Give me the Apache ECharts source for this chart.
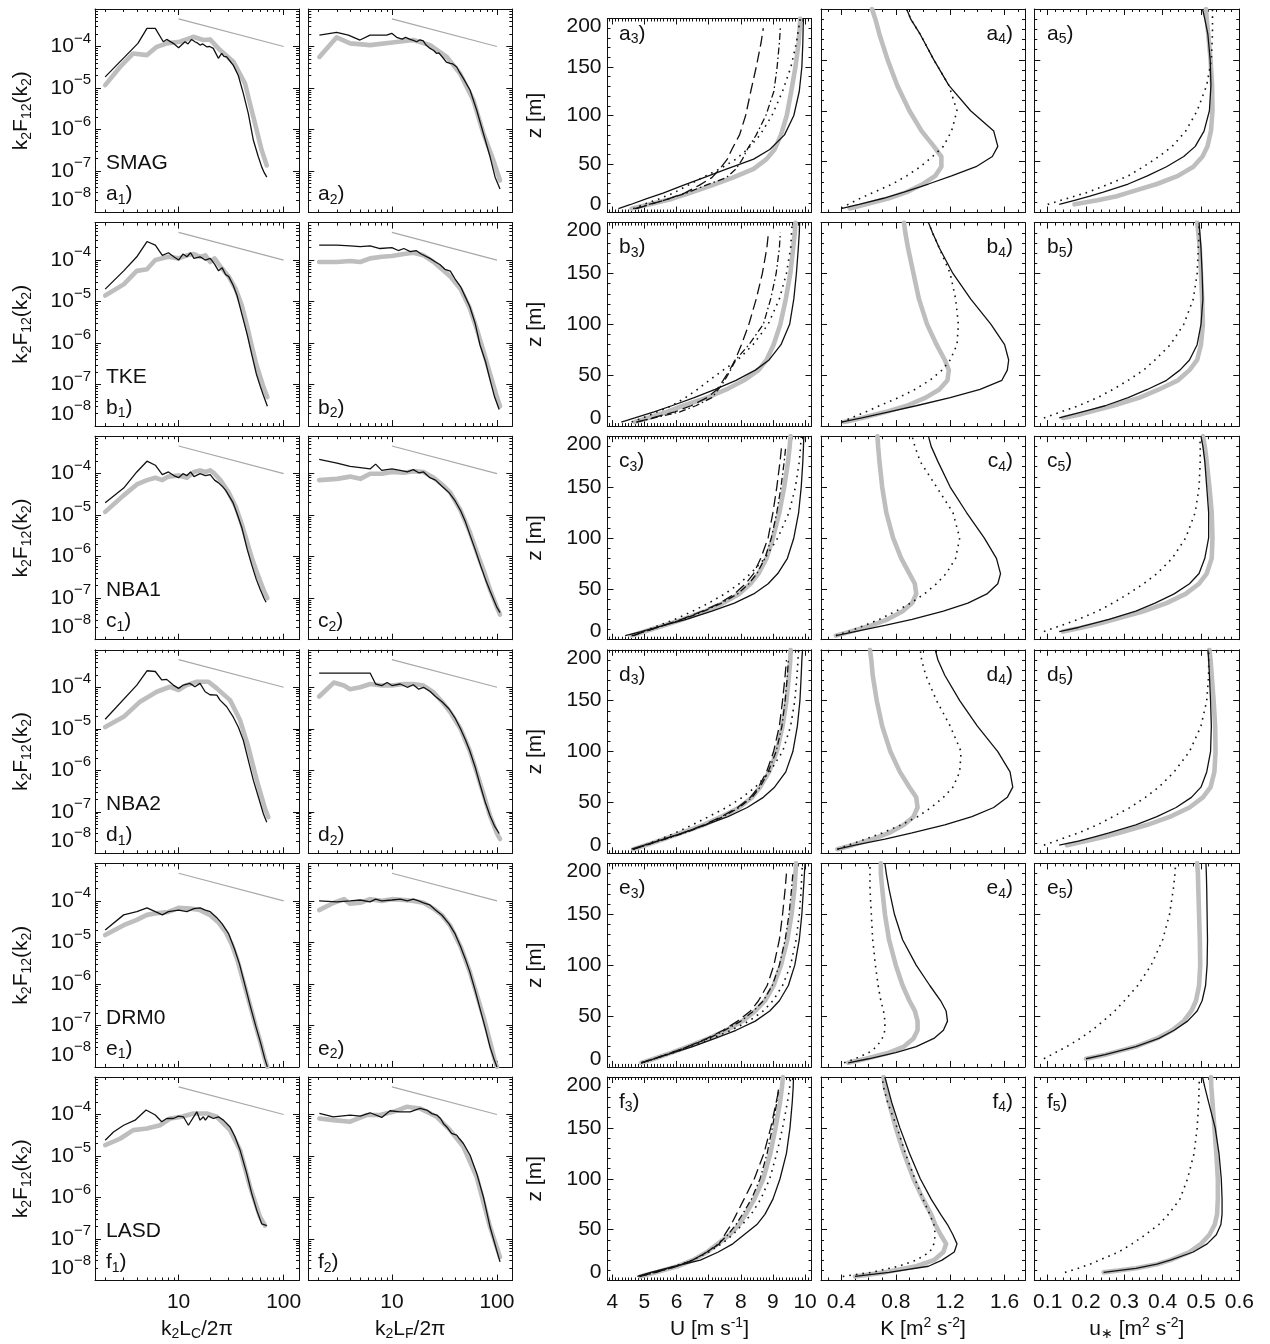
<!DOCTYPE html>
<html><head><meta charset="utf-8">
<script src="https://cdn.jsdelivr.net/npm/echarts/dist/echarts.min.js"></script>
<style>html,body{margin:0;padding:0;background:#fff}#chart{width:1270px;height:1344px}</style>
</head><body><div id="chart"></div>
<script>
// ---------------- DATA ----------------
const rowNames = ['SMAG', 'TKE', 'NBA1', 'NBA2', 'DRM0', 'LASD'];
const rowLetters = ['a', 'b', 'c', 'd', 'e', 'f'];

// -2/3 reference line (k, value)
const refLine = [[10, 4.64e-4], [100, 1e-4]];

// column 1 spectra (k2 Lc / 2pi, k2 F12)
const a1Black = [[2,1.85e-5],[4.1,1.19e-4],[5,2.73e-4],[6,2.73e-4],[7.15,1.3e-4],[7.7,1.48e-4],[8.9,1.19e-4],[10,9.3e-5],[11.5,1.3e-4],[12.3,1.15e-4],[13.3,1.48e-4],[14.3,1.3e-4],[15.2,1.2e-4],[16,1.08e-4],[17,1.15e-4],[18.5,9.8e-5],[19.8,1.0e-4],[21.4,9e-5],[22.5,7e-5],[23.9,5.2e-5],[25.7,6.8e-5],[27,5.8e-5],[28.7,5.6e-5],[30.5,4.6e-5],[33.2,3.5e-5],[37,2e-5],[41.3,7.4e-6],[46.1,2.4e-6],[51.5,5.5e-7],[57.4,2.2e-7],[61.9,1.24e-7],[65.5,9e-8],[69.1,7.1e-8]];
const a1Gray = [[2,1.17e-5],[2.77,3.2e-5],[3.7,6.8e-5],[5,6.2e-5],[6.2,9.8e-5],[7.7,1.19e-4],[10.3,1.3e-4],[13.8,1.71e-4],[17.2,1.43e-4],[19.9,1.48e-4],[24.8,8.2e-5],[33.2,4.3e-5],[42.9,1.28e-5],[47,5e-6],[51.5,2e-6],[61.9,3.1e-7],[69.1,1.36e-7]];
const b1Black = [[2,2e-5],[3,5.5e-5],[4,1.2e-4],[5,2.8e-4],[6,2.3e-4],[7,1.3e-4],[8,1.5e-4],[9,1.2e-4],[10,1e-4],[11,1.4e-4],[12,1.2e-4],[13,1.5e-4],[14,1.1e-4],[16,1.2e-4],[18,1e-4],[20,1.1e-4],[22,8e-5],[24,5.5e-5],[26,6.5e-5],[28,4.5e-5],[30,4e-5],[33,2.5e-5],[36,1.4e-5],[40,5e-6],[45,1.6e-6],[50,5e-7],[55,1.8e-7],[60,9e-8],[65,5e-8],[70,3e-8]];
const b1Gray = [[2,1.4e-5],[3,2.6e-5],[4,5.5e-5],[5,6e-5],[6,1e-4],[8,1.2e-4],[10,1.1e-4],[12,1.3e-4],[14,1.4e-4],[16,1.2e-4],[18,1.3e-4],[20,9e-5],[22,1.1e-4],[25,7e-5],[30,4e-5],[35,2e-5],[40,8e-6],[45,2.5e-6],[50,8e-7],[55,3e-7],[60,1.5e-7],[65,8e-8],[70,5e-8]];
const c1Black = [[2,2e-5],[3,4.5e-5],[4,1.1e-4],[5,2e-4],[6,1.6e-4],[7,9.5e-5],[8,1.1e-4],[9,9e-5],[10,8e-5],[11,1e-4],[12,9e-5],[13,1.1e-4],[14,8.5e-5],[16,1e-4],[18,9e-5],[20,9.5e-5],[22,7e-5],[24,6e-5],[26,5e-5],[28,4e-5],[30,3e-5],[33,2e-5],[36,1.1e-5],[40,5e-6],[45,1.5e-6],[50,6e-7],[55,2.8e-7],[60,1.6e-7],[65,1e-7],[68,8e-8]];
const c1Gray = [[2,1.2e-5],[3,3e-5],[4,5.5e-5],[5,7e-5],[6,8e-5],[7,7e-5],[8,8.5e-5],[10,9e-5],[12,8e-5],[14,1.1e-4],[16,1.2e-4],[18,1.1e-4],[20,1.2e-4],[22,1e-4],[25,7e-5],[30,3.5e-5],[35,1.6e-5],[40,6e-6],[45,2.2e-6],[50,9e-7],[55,4.5e-7],[60,2.5e-7],[65,1.5e-7],[70,1e-7]];
const d1Black = [[2,1.7e-5],[4,1.13e-4],[5,2.5e-4],[6,2.4e-4],[6.9,1.5e-4],[7.7,1.55e-4],[8.9,1.13e-4],[10,9.4e-5],[11.1,1.13e-4],[12.8,1.24e-4],[14.3,1.03e-4],[16,1.24e-4],[17.9,7.8e-5],[19.9,6.6e-5],[23.1,6.5e-5],[24.8,4.9e-5],[28.7,3.4e-5],[33.2,1.9e-5],[37,1.1e-5],[41.3,5.3e-6],[46.1,1.74e-6],[51.5,5.7e-7],[57.4,2.3e-7],[64.1,9e-8],[69.1,5.6e-8]];
const d1Gray = [[2,1.1e-5],[3,1.94e-5],[4.3,4.5e-5],[6.2,7.8e-5],[8.3,1.03e-4],[10,8.6e-5],[11.9,1.13e-4],[14.9,1.36e-4],[19.2,1.36e-4],[23.1,9.4e-5],[30.9,4.9e-5],[38.5,1.6e-5],[46.1,3.65e-6],[55.5,5.7e-7],[66.5,1.19e-7],[71.5,7.4e-8]];
const e1Black = [[2,2e-5],[3,4.6e-5],[4,5.5e-5],[5,6.8e-5],[6,5.5e-5],[7,4.6e-5],[8,5.5e-5],[10,6e-5],[12,5.5e-5],[14,6.5e-5],[16,6.8e-5],[18,6e-5],[20,5.5e-5],[23,4e-5],[26,2.8e-5],[30,1.6e-5],[34,7e-6],[38,3e-6],[43,9e-7],[48,3e-7],[54,1e-7],[60,4e-8],[66,1.6e-8],[70,1e-8]];
const e1Gray = [[2,1.5e-5],[3,2.6e-5],[4,3.5e-5],[5,4.6e-5],[6,5e-5],[8,5.4e-5],[10,6.8e-5],[13,6.5e-5],[16,6e-5],[20,4.5e-5],[24,3e-5],[28,1.8e-5],[32,9e-6],[36,4e-6],[42,1e-6],[48,3e-7],[54,1e-7],[60,4e-8],[66,1.6e-8],[70,1e-8]];
const f1Black = [[2,2.4e-5],[2.4,3.8e-5],[3,5.5e-5],[3.85,7.3e-5],[4.9,1.28e-4],[6,9.7e-5],[6.9,6.7e-5],[7.7,8e-5],[8.9,8e-5],[10,9.1e-5],[11.1,8.8e-5],[12.4,5.5e-5],[14.9,1.16e-4],[16,7.3e-5],[17.2,8.8e-5],[18,7.3e-5],[19.2,9.1e-5],[21.4,8e-5],[23.9,8.8e-5],[26.7,7.3e-5],[30.9,5e-5],[34.4,2.9e-5],[38.5,1.38e-5],[44.5,3.8e-6],[49.7,1.24e-6],[55.5,4.9e-7],[61.9,2.3e-7],[69.1,2.1e-7]];
const f1Gray = [[2,1.82e-5],[2.77,2.6e-5],[3.7,4.2e-5],[5,4.6e-5],[6.65,5.5e-5],[8.3,8e-5],[10.7,8.8e-5],[13.8,1.06e-4],[18.5,1.06e-4],[23.1,8.8e-5],[30.9,4.2e-5],[38.5,1.38e-5],[47.9,1.8e-6],[59.6,3.4e-7],[66.5,2.1e-7]];

// column 2 spectra (k2 Lf / 2pi, k2 F12)
const a2Black = [[2.04,1.88e-4],[2.98,2.19e-4],[3.85,1.88e-4],[4.97,1.43e-4],[6.19,1.88e-4],[8.93,1.88e-4],[9.96,2.07e-4],[11.1,1.66e-4],[12.5,1.5e-4],[13.5,1.65e-4],[14.9,1.48e-4],[16,1.4e-4],[17.2,1.3e-4],[18.5,1.45e-4],[19.9,1.37e-4],[21,1.1e-4],[23.1,9e-5],[25,8e-5],[26.7,6.8e-5],[28,7e-5],[30.9,5.2e-5],[33,4.2e-5],[35.8,3.9e-5],[38,3.8e-5],[41.4,3.2e-5],[44,2.4e-5],[47.9,1.7e-5],[55.5,8.8e-6],[64.2,2.9e-6],[74.3,8e-7],[86,2.2e-7],[96,7.1e-8],[107,3.7e-8]];
const a2Gray = [[2.04,5.6e-5],[2.98,1.66e-4],[4,1.19e-4],[6.2,1.08e-4],[9.6,1.23e-4],[16,1.43e-4],[23.1,1.08e-4],[33.3,5.6e-5],[44.5,2.24e-5],[59.6,5.1e-6],[74.3,8e-7],[92.5,1.8e-7],[107,5.9e-8]];
const b2Black = [[2.03,2.3e-4],[3,2.3e-4],[4,2.2e-4],[5,2.1e-4],[6.2,2.2e-4],[7.7,1.9e-4],[10,2e-4],[11.5,1.7e-4],[13,1.9e-4],[15,1.6e-4],[17,1.7e-4],[19,1.4e-4],[23,1.1e-4],[26,9e-5],[28.6,7.8e-5],[32,6e-5],[36,5.4e-5],[40,3.5e-5],[45,2.3e-5],[50,1.3e-5],[55,7.7e-6],[62,3e-6],[69,9e-7],[78,3.5e-7],[86,1.3e-7],[95,5e-8],[105,2.5e-8]];
const b2Gray = [[2.03,9e-5],[3,9e-5],[4,9.5e-5],[5,9e-5],[6.2,1.1e-4],[8,1.2e-4],[10,1.25e-4],[13,1.4e-4],[16,1.5e-4],[20,1.3e-4],[25,9e-5],[30,6e-5],[36,4e-5],[45,2e-5],[55,7e-6],[65,2e-6],[75,6e-7],[86,1.8e-7],[100,5e-8],[107,3e-8]];
const c2Black = [[2.03,2.2e-4],[3,1.8e-4],[4,1.5e-4],[5,1.4e-4],[6.2,1.3e-4],[7,1.7e-4],[8,1.2e-4],[10,1.3e-4],[12,1.2e-4],[14,1.1e-4],[16,1.25e-4],[18,1.05e-4],[20,1.1e-4],[23,8e-5],[26,7e-5],[30,5e-5],[35,3.5e-5],[40,2.2e-5],[45,1.3e-5],[50,7e-6],[55,3.5e-6],[62,1.5e-6],[70,6e-7],[78,2.8e-7],[86,1.5e-7],[100,6e-8],[107,4.5e-8]];
const c2Gray = [[2.03,7e-5],[3,7.5e-5],[4,8.5e-5],[5,7.5e-5],[6.2,1e-4],[8,1e-4],[10,1.1e-4],[13,1.05e-4],[16,1.15e-4],[20,1.1e-4],[25,8e-5],[30,5.5e-5],[36,3.5e-5],[45,1.3e-5],[55,4e-6],[65,1.2e-6],[75,4.5e-7],[86,1.6e-7],[100,6e-8],[107,4e-8]];
const d2Black = [[2.03,2.2e-4],[3,2.2e-4],[4,2.2e-4],[5,2.2e-4],[6.2,2.2e-4],[7,1.2e-4],[8,1.1e-4],[9,1.3e-4],[10,1.1e-4],[12,1.2e-4],[14,1e-4],[16,1.15e-4],[18,9e-5],[20,1e-4],[23,8e-5],[26,6e-5],[30,4.5e-5],[35,3e-5],[40,1.8e-5],[45,1e-5],[50,5.5e-6],[55,3e-6],[62,1.2e-6],[70,4e-7],[78,1.6e-7],[86,8e-8],[95,4.5e-8],[105,3e-8]];
const d2Gray = [[2.03,6e-5],[2.8,1.3e-4],[3.5,1.1e-4],[4,9e-5],[5,1e-4],[6.2,1.2e-4],[8,1.1e-4],[10,1.1e-4],[13,1.2e-4],[16,1.2e-4],[20,1.1e-4],[25,7.5e-5],[30,4.5e-5],[36,2.5e-5],[45,1e-5],[55,3e-6],[65,8e-7],[75,2.5e-7],[86,8e-8],[100,3e-8],[107,2.2e-8]];
const e2Black = [[2.03,1e-4],[3,9.5e-5],[4,1e-4],[5,1.05e-4],[6.2,9.5e-5],[7,1.1e-4],[8,1e-4],[10,1.05e-4],[12,1.1e-4],[14,1e-4],[16,1.1e-4],[18,1e-4],[20,9e-5],[23,8e-5],[26,6e-5],[30,4.5e-5],[35,2.8e-5],[40,1.6e-5],[45,8e-6],[50,4e-6],[55,2e-6],[62,7e-7],[70,2.2e-7],[78,8e-8],[86,3e-8],[95,1.4e-8],[100,1e-8]];
const e2Gray = [[2.03,6e-5],[2.8,9e-5],[3.5,1.1e-4],[4,8.5e-5],[5,9e-5],[6.2,1.1e-4],[8,1e-4],[10,1.1e-4],[13,1.05e-4],[16,1e-4],[20,9e-5],[25,6.5e-5],[30,4.5e-5],[36,2.5e-5],[45,8e-6],[55,2e-6],[65,5e-7],[75,1.5e-7],[86,4e-8],[95,1.5e-8],[100,1e-8]];
const f2Black = [[2.04,1.06e-4],[2.77,8.8e-5],[4,9.7e-5],[5,9.1e-5],[6.2,1.1e-4],[8,8.5e-5],[9.6,1.23e-4],[11.9,1.16e-4],[14.9,1.16e-4],[18.5,1.4e-4],[21.5,1.28e-4],[24,1.05e-4],[26.7,9.7e-5],[29,8e-5],[31,6e-5],[33.3,5e-5],[37,3.5e-5],[41.4,3.2e-5],[44,2.6e-5],[47.9,2e-5],[55.5,1.04e-5],[64.2,3.8e-6],[74.3,1.03e-6],[86,1.94e-7],[99.5,5.3e-8],[107,2.8e-8]];
const f2Gray = [[2.04,8e-5],[2.77,7.3e-5],[4,6.7e-5],[5.75,9.7e-5],[7.7,9.7e-5],[10.3,1.16e-4],[13.8,1.53e-4],[18.5,1.4e-4],[26.7,8.8e-5],[35.8,4.2e-5],[47.9,1.66e-5],[64.2,3.1e-6],[86,1.94e-7],[107,3.65e-8]];

// heights of the profile points [m]
const zP = [4, 8, 14, 20, 28, 36, 45, 55, 65, 80, 100, 125, 150, 175, 190, 200];
const zS = [8, 12, 16, 20, 28, 36, 45, 55, 65, 80, 100, 125, 150, 175, 190, 200];

// column 3: U [m/s] at zP
const Ua_solid = [4.19,4.55,5.05,5.58,6.2,6.85,7.57,8.4,8.9,9.36,9.65,9.82,9.9,9.93,9.94,9.95];
const Ua_gray  = [4.6,5.1,5.85,6.4,7.1,7.75,8.4,8.8,9.05,9.25,9.43,9.57,9.7,9.8,9.83,9.85];
const Ua_dot   = [4.65,4.95,5.45,5.9,6.35,6.8,7.35,7.85,8.2,8.6,8.97,9.3,9.56,9.73,9.8,9.85];
const Ua_dd    = [4.7,5.1,5.75,6.3,6.9,7.55,7.85,8.05,8.2,8.48,8.78,9.03,9.13,9.2,9.23,null];
const Ua_ld    = [4.75,5.15,5.75,6.25,6.7,7.1,7.35,7.58,7.72,7.96,8.15,8.31,8.48,8.63,8.7,null];
const Ub_solid = [4.28,4.7,5.3,5.85,6.55,7.2,7.85,8.45,8.88,9.25,9.52,9.65,9.73,9.79,9.82,9.83];
const Ub_gray  = [4.7,5.1,5.7,6.2,6.95,7.55,8.1,8.55,8.8,9.02,9.23,9.4,9.54,9.63,9.68,9.7];
const Ub_dot   = [4.6,4.95,5.4,5.85,6.28,6.65,7.02,7.45,7.9,8.38,8.85,9.2,9.42,9.55,9.58,9.6];
const Ub_dd    = [4.75,5.3,6.1,6.6,7.1,7.3,7.5,7.68,7.84,8.25,8.7,8.93,9.1,9.2,9.23,null];
const Ub_ld    = [4.75,5.25,5.95,6.45,6.95,7.26,7.45,7.65,7.82,8.02,8.25,8.48,8.67,8.81,8.86,null];
const Uc_solid = [4.4,4.9,5.6,6.3,7.1,7.8,8.4,8.85,9.15,9.45,9.65,9.8,9.88,9.93,9.95,9.96];
const Uc_gray  = [4.6,5.0,5.6,6.2,6.9,7.45,7.95,8.3,8.55,8.8,9.0,9.2,9.35,9.47,9.52,9.55];
const Uc_dot   = [4.6,4.95,5.45,5.95,6.5,7.0,7.5,7.95,8.3,8.75,9.15,9.5,9.7,9.82,9.86,9.88];
const Uc_dd    = [4.65,5.0,5.6,6.2,6.85,7.4,7.9,8.25,8.5,8.75,8.95,9.12,9.25,9.35,9.4,null];
const Uc_ld    = [4.65,5.0,5.6,6.15,6.8,7.35,7.8,8.15,8.4,8.62,8.85,9.0,9.12,9.22,9.27,null];
const Ud_solid = [4.6,5.0,5.6,6.2,6.9,7.6,8.2,8.7,9.05,9.4,9.62,9.76,9.84,9.88,9.9,9.92];
const Ud_gray  = [4.65,5.05,5.6,6.15,6.85,7.4,7.95,8.35,8.6,8.88,9.12,9.3,9.42,9.5,9.54,9.55];
const Ud_dot   = [4.65,5.0,5.5,5.95,6.5,7.0,7.55,8.05,8.45,8.9,9.3,9.55,9.68,9.75,9.78,9.8];
const Ud_dd    = [4.65,5.05,5.65,6.25,6.9,7.45,7.95,8.35,8.6,8.85,9.1,9.28,9.38,9.45,9.48,null];
const Ud_ld    = [4.65,5.05,5.6,6.2,6.85,7.4,7.9,8.3,8.55,8.8,9.02,9.2,9.3,9.38,9.42,null];
const Ue_solid = [4.9,5.3,5.9,6.5,7.2,7.85,8.45,8.9,9.2,9.48,9.68,9.82,9.9,9.95,9.98,10.0];
const Ue_gray  = [4.9,5.3,5.85,6.35,7.0,7.55,8.05,8.45,8.75,9.02,9.25,9.45,9.58,9.67,9.7,9.72];
const Ue_dot   = [4.9,5.3,5.9,6.45,7.1,7.7,8.25,8.7,9.0,9.3,9.55,9.72,9.82,9.88,9.9,9.92];
const Ue_dd    = [4.9,5.3,5.85,6.35,7.0,7.5,8.0,8.4,8.7,8.98,9.2,9.38,9.5,9.58,9.62,null];
const Ue_ld    = [4.9,5.3,5.85,6.35,6.95,7.45,7.9,8.3,8.55,8.82,9.03,9.2,9.3,9.38,9.42,null];
const Uf_solid = [4.78,5.2,5.95,6.74,7.3,7.75,8.1,8.5,8.75,9.0,9.22,9.42,9.53,9.6,9.63,9.64];
const Uf_gray  = [4.86,5.35,6.03,6.5,6.95,7.28,7.65,7.95,8.15,8.42,8.7,8.92,9.08,9.22,9.28,9.31];
const Uf_dot   = [4.85,5.3,5.95,6.5,7.0,7.4,7.75,8.05,8.32,8.62,8.9,9.12,9.3,9.45,9.52,9.55];
const Uf_dd    = [4.85,5.35,6.0,6.5,6.95,7.3,7.6,7.85,8.05,8.33,8.6,8.82,8.98,9.12,9.18,null];
const Uf_ld    = [4.85,5.35,6.0,6.5,6.95,7.33,7.5,7.7,7.86,8.1,8.42,8.72,8.93,9.1,9.2,null];

// column 4: K [m2/s2] at zP
const Ka_solid = [0.405,0.53,0.71,0.86,1.04,1.21,1.39,1.51,1.55,1.52,1.35,1.19,1.08,0.98,0.91,0.88];
const Ka_gray  = [0.46,0.58,0.75,0.88,1.0,1.09,1.135,1.135,1.08,0.99,0.9,0.81,0.74,0.68,0.65,0.625];
const Ka_dot   = [0.4,0.45,0.54,0.64,0.775,0.88,0.98,1.07,1.15,1.21,1.25,1.19,1.08,0.98,0.91,0.88];
const Kb_solid = [0.4,0.55,0.75,0.95,1.2,1.42,1.58,1.62,1.63,1.6,1.5,1.35,1.22,1.12,1.07,1.04];
const Kb_gray  = [0.42,0.55,0.73,0.88,1.02,1.12,1.18,1.19,1.16,1.1,1.03,0.97,0.93,0.89,0.87,0.86];
const Kb_dot   = [0.4,0.47,0.58,0.68,0.82,0.94,1.05,1.14,1.2,1.25,1.26,1.24,1.2,1.12,1.07,1.04];
const Kc_solid = [0.36,0.5,0.72,0.92,1.15,1.33,1.47,1.55,1.57,1.54,1.45,1.32,1.2,1.11,1.06,1.04];
const Kc_gray  = [0.36,0.47,0.62,0.74,0.85,0.92,0.95,0.94,0.9,0.84,0.78,0.73,0.7,0.68,0.67,0.665];
const Kc_dot   = [0.36,0.45,0.57,0.68,0.8,0.91,1.01,1.1,1.17,1.24,1.27,1.22,1.1,0.98,0.94,0.92];
const Kd_solid = [0.37,0.5,0.72,0.92,1.16,1.36,1.52,1.62,1.66,1.64,1.55,1.4,1.27,1.16,1.11,1.09];
const Kd_gray  = [0.37,0.48,0.63,0.75,0.86,0.93,0.96,0.95,0.9,0.83,0.76,0.7,0.66,0.63,0.62,0.61];
const Kd_dot   = [0.37,0.45,0.58,0.7,0.84,0.96,1.06,1.15,1.22,1.27,1.28,1.2,1.1,1.02,0.99,0.98];
const Ke_solid = [0.45,0.6,0.8,0.95,1.08,1.15,1.18,1.17,1.13,1.05,0.95,0.85,0.79,0.75,0.73,0.72];
const Ke_gray  = [0.45,0.58,0.75,0.86,0.93,0.96,0.96,0.94,0.9,0.85,0.8,0.75,0.72,0.7,0.69,0.69];
const Ke_dot   = [0.42,0.5,0.6,0.66,0.7,0.72,0.72,0.71,0.69,0.67,0.65,0.63,0.62,0.61,0.61,0.61];
const Kf_solid = [0.5,0.75,1.04,1.14,1.23,1.25,1.22,1.18,1.13,1.06,0.98,0.9,0.83,0.77,0.74,0.72];
const Kf_gray  = [0.5,0.72,0.95,1.08,1.15,1.17,1.13,1.09,1.06,1.0,0.93,0.86,0.8,0.75,0.72,0.71];
const Kf_dot   = [0.41,0.62,0.82,0.95,1.05,1.08,1.09,1.08,1.05,1.0,0.94,0.87,0.81,0.74,0.71,0.7];

// column 5: u* at zS
const Sa_solid = [0.13,0.17,0.21,0.245,0.31,0.36,0.41,0.455,0.485,0.508,0.522,0.526,0.524,0.518,0.51,0.504];
const Sa_gray  = [0.17,0.23,0.28,0.315,0.385,0.44,0.48,0.504,0.517,0.526,0.53,0.529,0.525,0.519,0.515,0.513];
const Sa_dot   = [0.1,0.135,0.17,0.205,0.26,0.31,0.35,0.39,0.425,0.46,0.49,0.515,0.527,0.53,0.53,0.53];
const Sb_solid = [0.13,0.17,0.21,0.25,0.31,0.36,0.41,0.445,0.47,0.49,0.5,0.505,0.503,0.5,0.497,0.495];
const Sb_gray  = [0.14,0.19,0.23,0.27,0.34,0.39,0.44,0.47,0.49,0.5,0.505,0.503,0.5,0.497,0.493,0.49];
const Sb_dot   = [0.09,0.12,0.15,0.18,0.23,0.27,0.31,0.35,0.38,0.42,0.455,0.48,0.49,0.493,0.495,0.495];
const Sc_solid = [0.13,0.18,0.22,0.26,0.33,0.38,0.43,0.47,0.495,0.51,0.52,0.52,0.515,0.51,0.505,0.5];
const Sc_gray  = [0.14,0.19,0.235,0.275,0.35,0.41,0.46,0.495,0.515,0.528,0.53,0.528,0.522,0.515,0.51,0.505];
const Sc_dot   = [0.09,0.12,0.15,0.18,0.23,0.27,0.31,0.35,0.385,0.425,0.46,0.485,0.495,0.498,0.498,0.497];
const Sd_solid = [0.13,0.18,0.22,0.26,0.33,0.385,0.435,0.475,0.5,0.515,0.525,0.527,0.525,0.522,0.52,0.518];
const Sd_gray  = [0.15,0.2,0.245,0.285,0.36,0.42,0.47,0.505,0.525,0.535,0.538,0.537,0.533,0.528,0.525,0.522];
const Sd_dot   = [0.09,0.12,0.15,0.18,0.23,0.27,0.315,0.355,0.39,0.43,0.47,0.5,0.515,0.52,0.52,0.52];
const Se_solid = [0.2,0.25,0.29,0.33,0.39,0.43,0.465,0.49,0.503,0.512,0.516,0.517,0.516,0.515,0.514,0.513];
const Se_gray  = [0.2,0.25,0.29,0.33,0.385,0.425,0.455,0.475,0.487,0.495,0.498,0.497,0.495,0.493,0.492,0.49];
const Se_dot   = [0.09,0.11,0.13,0.15,0.185,0.215,0.245,0.275,0.3,0.335,0.37,0.4,0.418,0.428,0.432,0.434];
const Sf_solid = [0.246,0.33,0.385,0.42,0.48,0.516,0.54,0.552,0.555,0.555,0.553,0.547,0.537,0.52,0.51,0.504];
const Sf_gray  = [0.246,0.33,0.385,0.42,0.47,0.5,0.522,0.536,0.542,0.544,0.544,0.54,0.535,0.53,0.527,0.526];
const Sf_dot   = [0.145,0.18,0.21,0.235,0.285,0.32,0.355,0.39,0.415,0.445,0.465,0.482,0.49,0.494,0.495,0.496];

// tick values
const logKMajors = [10, 100];
const logKMinors = [2,3,4,5,6,7,8,9,20,30,40,50,60,70,80,90];
const logFMajors = [1e-8, 1e-7, 1e-6, 1e-5, 1e-4];
const logFLabels = [1e-7, 1e-6, 1e-5, 1e-4];
const logFBottomLabel = [1e-8];
const uMajors = [4, 5, 6, 7, 8, 9, 10];
const zMajors = [0, 50, 100, 150, 200];
const kMajors = [0.4, 0.8, 1.2, 1.6];
const sMajors = [0.1, 0.2, 0.3, 0.4, 0.5, 0.6];

// ---------------- BUILD ----------------
const FONT = '"Liberation Sans", Arial, Helvetica, sans-serif';
const INK = '#111111';
const FS = 21;
function tok(size, lh, pad) { return {fontSize: size, fontFamily: FONT, fontWeight: 'normal', color: INK, lineHeight: lh, padding: pad}; }
const RICH = {
  n:  tok(FS, 25, [0, 0, 0, 0]),
  s:  tok(14, 14, [11, 0, 0, 0]),
  p:  tok(14, 14, [0, 0, 11, 0]),
  nt: tok(FS, 21, [2, 0, 2, 0]),
  pt: tok(15, 9, [0, 0, 16, 0]),
  nl: tok(FS, 21, [0, 0, 24, 0]),
  pl: tok(15, 5, [0, 0, 40, 0]),
  zl: tok(FS, 21, [0, 0, 16, 0]),
  zh: tok(FS, 21, [16, 0, 0, 0])
};

function steps(a, b, st) {
  const out = []; const n = Math.round((b - a) / st);
  for (let i = 0; i <= n; i++) out.push(+(a + i * st).toFixed(6));
  return out;
}
function without(arr, ex) { return arr.filter(v => !ex.some(e => Math.abs(e - v) < 1e-9)); }
const logFMinors = [];
for (let d = -8; d <= -4; d++) for (let m = 2; m <= 9; m++) { const v = m * Math.pow(10, d); if (v <= 8e-4) logFMinors.push(+v.toPrecision(3)); }

function powLabel(v) {
  const e = Math.round(Math.log10(v)); const t = '\u2212' + Math.abs(e);
  return e === -8 ? '{nl|10}{pl|' + t + '}' : '{nt|10}{pt|' + t + '}';
}
const SPEC = {
  logK: {type: 'log', min: 1.6, max: 140, majors: logKMajors, minors: logKMinors, labels: logKMajors, fmt: v => String(Math.round(v))},
  logF: {type: 'log', min: 1e-8, max: 8e-4, majors: logFMajors, minors: logFMinors, labels: logFLabels, extraLabels: logFBottomLabel,
         margin: 4, fmt: powLabel},
  U: {type: 'value', min: 3.85, max: 10.2, majors: uMajors, minors: without(steps(3.9, 10.2, 0.1), uMajors), labels: uMajors, fmt: v => String(v)},
  z: {type: 'value', min: 0, max: 200, majors: zMajors, minors: without(steps(0, 200, 10), zMajors), labels: zMajors, margin: 6,
      fmt: v => v === 0 ? '{zl|0}' : (v === 200 ? '{zh|200}' : String(v))},
  K: {type: 'value', min: 0.25, max: 1.75, majors: kMajors, minors: without(steps(0.3, 1.7, 0.1), kMajors), labels: kMajors, fmt: v => v.toFixed(1)},
  S: {type: 'value', min: 0.065, max: 0.6, majors: sMajors, minors: without(steps(0.08, 0.6, 0.02), sMajors), labels: sMajors, fmt: v => v.toFixed(1)}
};

const COL_L = [95, 308.3, 607.5, 821, 1034.3];
const COL_W = [204, 204, 204, 204, 205];
const ROW_T0 = 9, ROW_STEP = 213.6, ROW_H = 203.5;

const grids = [], xAxes = [], yAxes = [], series = [], titles = [];

function addAxisSet(list, spec, gi, isX, showLabels, name, nameGap) {
  const idx = list.length;
  const base = {gridIndex: gi, type: spec.type, min: spec.min, max: spec.max, silent: true,
    splitLine: {show: false}, splitArea: {show: false}, minorTick: {show: false}, minorSplitLine: {show: false}};
  if (spec.type === 'log') base.logBase = 10;
  const mk = (pos, major, labelVals) => Object.assign({}, base, {
    position: pos,
    axisLine: {show: major, onZero: false, lineStyle: {color: INK, width: 1}},
    axisTick: {show: true, inside: true, length: major ? 6 : 3, customValues: major ? spec.majors : spec.minors,
               lineStyle: {color: INK, width: 1}},
    axisLabel: {show: !!labelVals, customValues: labelVals || spec.labels, formatter: spec.fmt, margin: isX ? 11 : (spec.margin || 6),
                showMinLabel: true, showMaxLabel: true, hideOverlap: false,
                fontFamily: FONT, fontSize: FS, fontWeight: 'normal', color: INK, rich: RICH}
  });
  const main = mk(isX ? 'bottom' : 'left', true, showLabels ? spec.labels : null);
  if (name) {
    main.name = name; main.nameLocation = 'middle'; main.nameGap = nameGap;
    main.nameTextStyle = {rich: RICH, fontFamily: FONT, fontSize: FS, fontWeight: 'normal', color: INK};
  }
  const minor = mk(isX ? 'bottom' : 'left', false, (showLabels && spec.extraLabels) ? spec.extraLabels : null);
  list.push(main, minor, mk(isX ? 'top' : 'right', true, null), mk(isX ? 'top' : 'right', false, null));
  return idx;
}

const ST = {
  black: {color: INK, width: 1.3, type: 'solid'},
  gray: {color: '#bebebe', width: 4.6, type: 'solid', cap: 'round', join: 'round'},
  ref: {color: '#a8a8a8', width: 1.2, type: 'solid'},
  dot: {color: INK, width: 1.6, type: [1.6, 5]},
  dd: {color: INK, width: 1.3, type: [7, 3, 1.6, 3]},
  ld: {color: INK, width: 1.3, type: [11, 5]}
};
function addLine(xi, yi, data, style, z) {
  series.push({type: 'line', xAxisIndex: xi, yAxisIndex: yi, data: data, symbol: 'none', showSymbol: false,
    silent: true, animation: false, z: z, clip: true, lineStyle: style});
}
function profile(zs, vals) {
  const out = [];
  zs.forEach((z, i) => { if (vals[i] != null) out.push([vals[i], z]); });
  return out;
}
function addTitle(text, pos) {
  titles.push(Object.assign({text: text, padding: 0, itemGap: 0,
    textStyle: {rich: RICH, fontFamily: FONT, fontSize: FS, fontWeight: 'normal', color: INK}}, pos));
}

const spec1 = [[a1Black, a1Gray], [b1Black, b1Gray], [c1Black, c1Gray], [d1Black, d1Gray], [e1Black, e1Gray], [f1Black, f1Gray]];
const spec2 = [[a2Black, a2Gray], [b2Black, b2Gray], [c2Black, c2Gray], [d2Black, d2Gray], [e2Black, e2Gray], [f2Black, f2Gray]];
const Uprof = [[Ua_solid, Ua_gray, Ua_dot, Ua_dd, Ua_ld], [Ub_solid, Ub_gray, Ub_dot, Ub_dd, Ub_ld], [Uc_solid, Uc_gray, Uc_dot, Uc_dd, Uc_ld],
               [Ud_solid, Ud_gray, Ud_dot, Ud_dd, Ud_ld], [Ue_solid, Ue_gray, Ue_dot, Ue_dd, Ue_ld], [Uf_solid, Uf_gray, Uf_dot, Uf_dd, Uf_ld]];
const Kprof = [[Ka_solid, Ka_gray, Ka_dot], [Kb_solid, Kb_gray, Kb_dot], [Kc_solid, Kc_gray, Kc_dot],
               [Kd_solid, Kd_gray, Kd_dot], [Ke_solid, Ke_gray, Ke_dot], [Kf_solid, Kf_gray, Kf_dot]];
const Sprof = [[Sa_solid, Sa_gray, Sa_dot], [Sb_solid, Sb_gray, Sb_dot], [Sc_solid, Sc_gray, Sc_dot],
               [Sd_solid, Sd_gray, Sd_dot], [Se_solid, Se_gray, Se_dot], [Sf_solid, Sf_gray, Sf_dot]];

const xSpecs = [SPEC.logK, SPEC.logK, SPEC.U, SPEC.K, SPEC.S];
const ySpecs = [SPEC.logF, SPEC.logF, SPEC.z, SPEC.z, SPEC.z];
const xNames = ['{n|k}{s|2}{n|L}{s|C}{n|/2π}', '{n|k}{s|2}{n|L}{s|F}{n|/2π}', '{n|U [m s}{p|-1}{n|]}',
                '{n|K [m}{p|2}{n| s}{p|-2}{n|]}', '{n|u}{s|∗}{n| [m}{p|2}{n| s}{p|-2}{n|]}'];
const yNameSpec = '{n|k}{s|2}{n|F}{s|12}{n|(k}{s|2}{n|)}';

for (let r = 0; r < 6; r++) {
  const top = ROW_T0 + r * ROW_STEP;
  const bottom = top + ROW_H;
  const last = r === 5;
  for (let c = 0; c < 5; c++) {
    const gi = grids.length;
    grids.push({left: COL_L[c], top: top, width: COL_W[c], height: ROW_H, show: false, containLabel: false});
    const xi = addAxisSet(xAxes, xSpecs[c], gi, true, last, last ? xNames[c] : null, 36);
    const showY = c === 0 || c === 2;
    const yName = c === 0 ? yNameSpec : (c === 2 ? '{n|z [m]}' : null);
    const yi = addAxisSet(yAxes, ySpecs[c], gi, false, showY, yName, c === 0 ? 61 : 60);
    if (c < 2) {
      const pair = (c === 0 ? spec1 : spec2)[r];
      addLine(xi, yi, refLine, ST.ref, 2);
      addLine(xi, yi, pair[1], ST.gray, 3);
      addLine(xi, yi, pair[0], ST.black, 4);
    } else if (c === 2) {
      const p = Uprof[r];
      addLine(xi, yi, profile(zP, p[1]), ST.gray, 3);
      addLine(xi, yi, profile(zP, p[4]), ST.ld, 4);
      addLine(xi, yi, profile(zP, p[3]), ST.dd, 4);
      addLine(xi, yi, profile(zP, p[2]), ST.dot, 4);
      addLine(xi, yi, profile(zP, p[0]), ST.black, 5);
    } else {
      const p = (c === 3 ? Kprof : Sprof)[r];
      const zz = c === 3 ? zP : zS;
      addLine(xi, yi, profile(zz, p[1]), ST.gray, 3);
      addLine(xi, yi, profile(zz, p[2]), ST.dot, 4);
      addLine(xi, yi, profile(zz, p[0]), ST.black, 5);
    }
  }
  const L = rowLetters[r];
  addTitle('{n|' + rowNames[r] + '}', {left: 106, top: bottom - 61.5});
  addTitle('{n|' + L + '}{s|1}{n|)}', {left: 106, top: bottom - 30.5});
  addTitle('{n|' + L + '}{s|2}{n|)}', {left: 318, top: bottom - 30.5});
  addTitle('{n|' + L + '}{s|3}{n|)}', {left: 619, top: top + 12.5});
  addTitle('{n|' + L + '}{s|4}{n|)}', {right: 1270 - 1013, top: top + 12.5});
  addTitle('{n|' + L + '}{s|5}{n|)}', {left: 1047, top: top + 12.5});
}

const chart = echarts.init(document.getElementById('chart'), null, {renderer: 'canvas', width: 1270, height: 1344});
chart.setOption({
  animation: false,
  backgroundColor: '#ffffff',
  title: titles,
  grid: grids,
  xAxis: xAxes,
  yAxis: yAxes,
  series: series
});
</script></body></html>
